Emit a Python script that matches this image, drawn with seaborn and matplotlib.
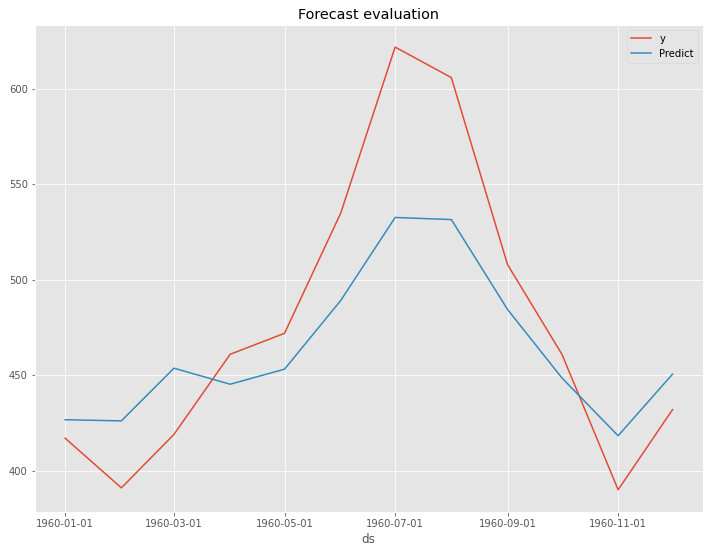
import matplotlib
matplotlib.use("Agg")
import matplotlib.pyplot as plt
import matplotlib.dates as mdates
import seaborn as sns
import pandas as pd

plt.style.use("ggplot")

ds = pd.date_range("1960-01-01", periods=12, freq="MS")
y_values = [417, 391, 419, 461, 472, 535, 622, 606, 508, 461, 390, 432]
predict_values = [426.7, 426.1, 453.7, 445.3, 453.2, 489.2, 532.7, 531.6, 484.5, 448.6, 418.3, 450.6]

df = pd.DataFrame({"ds": ds, "y": y_values, "Predict": predict_values})

fig, ax = plt.subplots(figsize=(710 / 72, 554 / 72), dpi=72)
sns.lineplot(data=df, x="ds", y="y", ax=ax, label="y", color="#E24A33")
sns.lineplot(data=df, x="ds", y="Predict", ax=ax, label="Predict", color="#348ABD")
ax.set_title("Forecast evaluation")
ax.set_xlabel("ds")
ax.set_ylabel("")
ax.xaxis.set_major_locator(mdates.MonthLocator(bymonth=[1, 3, 5, 7, 9, 11]))
ax.xaxis.set_major_formatter(mdates.DateFormatter("%Y-%m-%d"))
ax.legend(loc="upper right")
fig.subplots_adjust(left=0.049, right=0.990, top=0.955, bottom=0.076)
fig.savefig("out.png", dpi=72)
